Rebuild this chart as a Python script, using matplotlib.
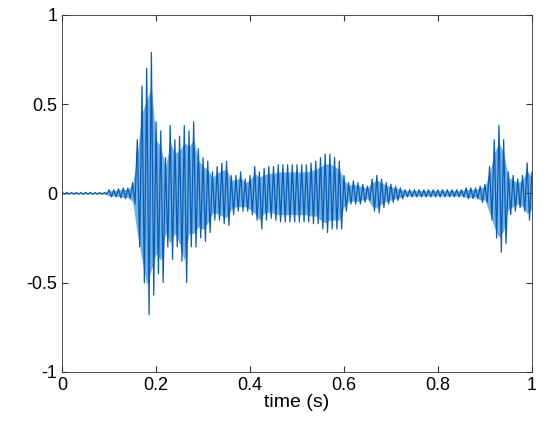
import matplotlib
matplotlib.use("Agg")
import matplotlib.pyplot as plt

plt.rcParams['font.family'] = ['Liberation Sans', 'DejaVu Sans']

t = [i / 100 for i in range(101)]
env_max = [0.005]*10 + [0.02, 0.02, 0.025, 0.03, 0.03, 0.06, 0.3, 0.6, 0.7, 0.79,
    0.4, 0.35, 0.2, 0.38, 0.3, 0.32, 0.38, 0.35, 0.4, 0.25,
    0.2, 0.18, 0.12, 0.15, 0.17, 0.18, 0.1, 0.1, 0.12, 0.08,
    0.1, 0.15, 0.12, 0.14, 0.15, 0.15, 0.16, 0.16, 0.16, 0.16,
    0.16, 0.16, 0.16, 0.17, 0.18, 0.2, 0.22, 0.22, 0.2, 0.18,
    0.1, 0.06, 0.07, 0.06, 0.05, 0.04, 0.08, 0.1, 0.08, 0.06,
    0.05, 0.04, 0.03, 0.02, 0.02, 0.02, 0.02, 0.02, 0.02, 0.02,
    0.02, 0.02, 0.02, 0.02, 0.02, 0.02, 0.03, 0.03, 0.03, 0.04,
    0.05, 0.15, 0.3, 0.38, 0.3, 0.12, 0.1, 0.08, 0.1, 0.17, 0.12]
env_min = [-0.005]*10 + [-0.02, -0.02, -0.025, -0.03, -0.03, -0.06, -0.3, -0.5, -0.68, -0.57,
    -0.45, -0.5, -0.3, -0.37, -0.3, -0.38, -0.5, -0.3, -0.3, -0.25,
    -0.27, -0.22, -0.15, -0.15, -0.17, -0.18, -0.12, -0.1, -0.1, -0.1,
    -0.12, -0.15, -0.2, -0.15, -0.14, -0.15, -0.16, -0.16, -0.16, -0.16,
    -0.16, -0.16, -0.16, -0.17, -0.17, -0.2, -0.22, -0.2, -0.2, -0.2,
    -0.1, -0.06, -0.06, -0.06, -0.05, -0.04, -0.1, -0.11, -0.08, -0.06,
    -0.05, -0.04, -0.03, -0.02, -0.02, -0.02, -0.02, -0.02, -0.02, -0.02,
    -0.02, -0.02, -0.02, -0.02, -0.02, -0.02, -0.03, -0.03, -0.03, -0.05,
    -0.05, -0.15, -0.25, -0.33, -0.28, -0.12, -0.1, -0.08, -0.1, -0.15, -0.12]

fig = plt.figure(figsize=(5.5, 4.48), dpi=100)
ax = fig.add_axes([0.113, 0.170, 0.854, 0.797])

ax.fill_between(t, [v * 0.75 for v in env_min], [v * 0.75 for v in env_max],
                color='#6fb2e6', lw=0)
zx, zy = [], []
for i in range(len(t)):
    zx += [t[i], t[i] + 0.005]
    zy += [env_max[i], env_min[i]]
ax.plot(zx, zy, color='#0b5cb5', lw=0.9)

ax.set_xlim(0, 1)
ax.set_ylim(-1, 1)
ax.set_xticks([0, 0.2, 0.4, 0.6, 0.8, 1])
ax.set_xticklabels(['0', '0.2', '0.4', '0.6', '0.8', '1'])
ax.set_yticks([-1, -0.5, 0, 0.5, 1])
ax.set_yticklabels(['-1', '-0.5', '0', '0.5', '1'])
ax.tick_params(direction='in', labelsize=13, top=True, right=True, color='#333333', length=4)
for s in ax.spines.values():
    s.set_color('#333333')
    s.set_linewidth(0.6)
ax.set_xlabel('time (s)', fontsize=14, labelpad=0)
fig.savefig('out.png', dpi=100)
